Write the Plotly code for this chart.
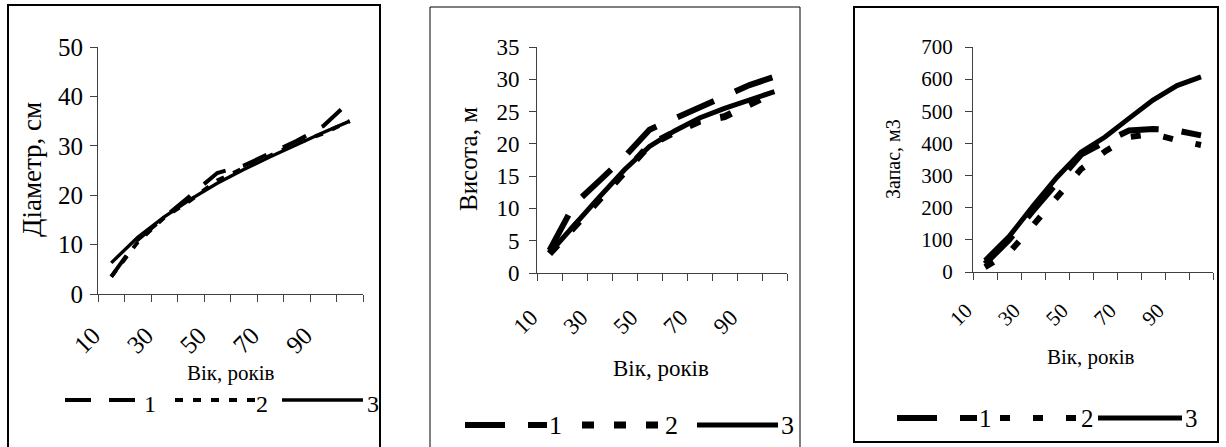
import plotly.graph_objects as go

W, H = 1226, 447

# ---- data ----
ages = [10, 20, 30, 40, 50, 60, 70, 80, 90, 100]
x_tick_labels = ['10', '', '30', '', '50', '', '70', '', '90', '', '']

diam_1 = [3.5, 11.0, 15.5, 20.0, 24.5, 26.0, 28.5, 31.0, 34.0, 39.0]
diam_2 = [3.5, 10.5, 15.5, 19.0, 23.0, 25.5, 28.0, 30.5, 32.5, 35.0]
diam_3 = [6.3, 11.5, 15.6, 19.2, 22.4, 25.2, 27.8, 30.3, 32.7, 35.0]

height_1 = [3.5, 10.7, 14.3, 18.0, 22.2, 23.9, 25.6, 27.4, 29.1, 30.4]
height_2 = [3.0, 7.3, 11.5, 15.6, 19.8, 21.8, 23.5, 24.2, 26.2, 28.0]
height_3 = [3.1, 7.5, 11.8, 16.0, 19.6, 22.0, 24.0, 25.5, 26.8, 28.1]

stock_1 = [25, 100, 190, 280, 365, 405, 440, 445, 440, 425]
stock_2 = [15, 60, 145, 230, 320, 375, 420, 430, 410, 395]
stock_3 = [36, 110, 205, 295, 373, 420, 478, 535, 580, 607]

series_names = ['1', '2', '3']
FONT = 'Liberation Serif'


def px(x):
    return x / W


def py(y):
    return 1 - y / H


panels = [
    dict(series=[diam_1, diam_2, diam_3], ymax=50, dtick=10,
         xpx=(98, 363), ypx=(294, 47), tickfont=25, ytitle='Діаметр, см',
         ytitle_pos=(32, 170), ytitle_size=27, xtitle_pos=(231, 373), xtitle_size=21,
         dashes=['26px,18px', '8px,10px', 'solid'], widths=[4, 4, 3.4],
         legend=dict(y=400, ty=404, s=[(65, 135), (175, 255), (282, 363)], t=[150, 262, 373], size=24),
         box=(8, 5, 380, 460), boxw=2, xstand=9, xshift=-5, ystand=2),
    dict(series=[height_1, height_2, height_3], ymax=35, dtick=5,
         xpx=(537, 787), ypx=(273, 47), tickfont=23, ytitle='Висота, м',
         ytitle_pos=(468, 159), ytitle_size=25, xtitle_pos=(661, 368), xtitle_size=23,
         dashes=['40px,23px', '12px,20px', 'solid'], widths=[6, 7, 5],
         legend=dict(y=425, ty=425, s=[(465, 547), (582, 662), (697, 778)], t=[555, 671, 787], size=26),
         box=(430, 7, 800, 460), boxw=1, xstand=14, xshift=-6, ystand=5),
    dict(series=[stock_1, stock_2, stock_3], ymax=700, dtick=100,
         xpx=(973, 1213), ypx=(272, 47), tickfont=21, ytitle='Запас, м3',
         ytitle_pos=(893, 159), ytitle_size=20, xtitle_pos=(1091, 357), xtitle_size=21,
         dashes=['40px,23px', '10px,23px', 'solid'], widths=[6, 6, 5],
         legend=dict(y=418, ty=418, s=[(897, 977), (1000, 1078), (1098, 1182)], t=[985, 1087, 1191], size=25),
         box=(854, 7, 1218, 442), boxw=2, xstand=10, xshift=-7, ystand=8),
]

fig = go.Figure()
shapes = []
annotations = []

for i, p in enumerate(panels):
    k = '' if i == 0 else str(i + 1)
    xa, ya = 'x' + k, 'y' + k
    for j, vals in enumerate(p['series']):
        fig.add_trace(go.Scatter(
            x=ages, y=vals, mode='lines', name=series_names[j], showlegend=False,
            xaxis=xa, yaxis=ya,
            line=dict(color='black', width=p['widths'][j], dash=p['dashes'][j]),
        ))
    fig.update_layout(**{
        'xaxis' + k: dict(
            domain=[px(p['xpx'][0]), px(p['xpx'][1])], anchor=ya,
            range=[5, 105], tickmode='array', automargin=False,
            tickvals=[5 + 10 * n for n in range(11)], ticktext=x_tick_labels,
            tickangle=-45, ticks='outside', ticklen=7, tickcolor='#404040',
            showline=True, linecolor='#404040', linewidth=1,
            showgrid=False, zeroline=False,
            ticklabelstandoff=p['xstand'], ticklabelshift=p['xshift'],
            tickfont=dict(family=FONT, size=p['tickfont'], color='black'),
        ),
        'yaxis' + k: dict(
            domain=[py(p['ypx'][0]), py(p['ypx'][1])], anchor=xa,
            range=[0, p['ymax']], tickmode='linear', tick0=0, dtick=p['dtick'],
            ticks='outside', ticklen=7, tickcolor='#404040', automargin=False,
            showline=True, linecolor='#404040', linewidth=1,
            showgrid=False, zeroline=False, ticklabelstandoff=p['ystand'],
            tickfont=dict(family=FONT, size=p['tickfont'], color='black'),
        ),
    })
    # axis titles
    annotations.append(dict(text=p['ytitle'], textangle=-90, xref='paper', yref='paper',
                            x=px(p['ytitle_pos'][0]), y=py(p['ytitle_pos'][1]),
                            showarrow=False, xanchor='center', yanchor='middle',
                            font=dict(family=FONT, size=p['ytitle_size'], color='black')))
    annotations.append(dict(text='Вік, років', xref='paper', yref='paper',
                            x=px(p['xtitle_pos'][0]), y=py(p['xtitle_pos'][1]),
                            showarrow=False, xanchor='center', yanchor='middle',
                            font=dict(family=FONT, size=p['xtitle_size'], color='black')))
    # legend
    lg = p['legend']
    for j in range(3):
        x0, x1 = lg['s'][j]
        shapes.append(dict(type='line', xref='paper', yref='paper',
                           x0=px(x0), x1=px(x1), y0=py(lg['y']), y1=py(lg['y']),
                           line=dict(color='black', width=p['widths'][j], dash=p['dashes'][j])))
        annotations.append(dict(text=series_names[j], xref='paper', yref='paper',
                                x=px(lg['t'][j]), y=py(lg['ty']), showarrow=False,
                                xanchor='center', yanchor='middle',
                                font=dict(family=FONT, size=lg['size'], color='black')))
    # panel border
    bx0, by0, bx1, by1 = p['box']
    shapes.append(dict(type='rect', xref='paper', yref='paper',
                       x0=px(bx0), x1=px(bx1), y0=py(by1), y1=py(by0),
                       line=dict(color='black', width=p['boxw']), fillcolor='rgba(0,0,0,0)'))

fig.update_layout(
    width=W, height=H, margin=dict(l=0, r=0, t=0, b=0, pad=0, autoexpand=False),
    paper_bgcolor='white', plot_bgcolor='white',
    showlegend=False, shapes=shapes, annotations=annotations,
    font=dict(family=FONT, color='black'),
)

fig.write_html('out.html', config={'responsive': False})
